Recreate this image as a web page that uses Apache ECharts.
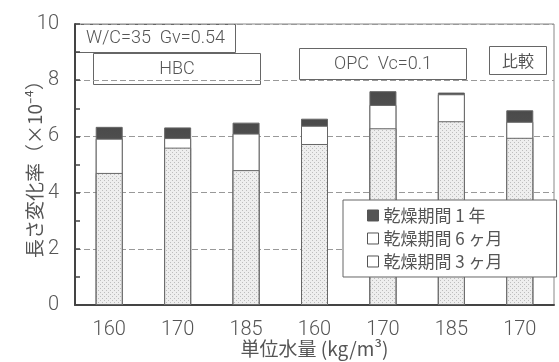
<!DOCTYPE html>
<html>
<head>
<meta charset="utf-8">
<script src="https://cdn.jsdelivr.net/npm/echarts@6/dist/echarts.min.js"></script>
<style>
  html, body { margin: 0; padding: 0; background: #fff; }
  #chart { width: 559px; height: 362px; }
</style>
</head>
<body>
<div id="chart"></div>
<script>
// Unit water content for each specimen group (HBC x3, OPC x3, reference x1)
const categories = ['160', '170', '185', '160', '170', '185', '170'];

// Cumulative length change (x10^-4) after each drying period
const dry1Year   = [6.34, 6.32, 6.49, 6.63, 7.61, 7.56, 6.93];
const dry6Months = [5.92, 5.94, 6.10, 6.38, 7.12, 7.50, 6.52];
const dry3Months = [4.70, 5.60, 4.80, 5.73, 6.29, 6.54, 5.95];

const seriesNames = ['乾燥期間 1 年', '乾燥期間 6 ヶ月', '乾燥期間 3 ヶ月'];
const yTicks = [0, 2, 4, 6, 8, 10];

const FONT_NUM = 'Roboto, sans-serif';
const FONT_JP = 'Noto Sans CJK JP, sans-serif';
const INK = '#555';

// Stipple texture for the 3-month segment
function stipple() {
  const c = document.createElement('canvas');
  c.width = 4; c.height = 4;
  const g = c.getContext('2d');
  g.fillStyle = '#eeeeee';
  g.fillRect(0, 0, 4, 4);
  g.fillStyle = '#bdbdbd';
  g.fillRect(0, 0, 1, 1);
  g.fillRect(2, 2, 1, 1);
  return c;
}

const darkFill = {
  type: 'linear', x: 0, y: 0, x2: 0, y2: 1,
  colorStops: [{ offset: 0, color: '#4a4a4a' }, { offset: 1, color: '#8a8a8a' }]
};

const chart = echarts.init(document.getElementById('chart'), null, { renderer: 'canvas' });

function boxLabel(x, y, w, h, text, font) {
  return {
    type: 'group', left: x, top: y, z: 50,
    children: [
      { type: 'rect', shape: { x: 0, y: 0, width: w, height: h },
        style: { fill: '#fff', stroke: '#666', lineWidth: 1 } },
      { type: 'text', x: w / 2, y: h / 2,
        style: { text: text, font: font, fill: INK, align: 'center', verticalAlign: 'middle' } }
    ]
  };
}

const barStyle = { borderColor: '#666', borderWidth: 1 };

chart.setOption({
  animation: false,
  backgroundColor: '#fff',
  grid: { left: 75, right: 5, top: 24, bottom: 57, containLabel: false, outerBoundsMode: 'none',
          show: true, borderColor: '#888', borderWidth: 1 },
  legend: {
    orient: 'vertical',
    left: 343, top: 200,
    z: 20,
    padding: [7, 54, 7, 24],
    itemGap: 6,
    itemWidth: 11, itemHeight: 11,
    borderColor: '#666', borderWidth: 1,
    backgroundColor: '#fff',
    selectedMode: false,
    textStyle: { fontFamily: FONT_JP, fontSize: 17, color: INK },
    data: [
      { name: seriesNames[0], icon: 'rect', itemStyle: { color: '#555', borderColor: '#555', borderWidth: 1 } },
      { name: seriesNames[1], icon: 'rect', itemStyle: { color: '#fff', borderColor: '#555', borderWidth: 1 } },
      { name: seriesNames[2], icon: 'rect', itemStyle: { color: '#fff', borderColor: '#555', borderWidth: 1 } }
    ]
  },
  xAxis: {
    type: 'category',
    data: categories,
    name: '単位水量 (kg/m³)',
    nameLocation: 'middle',
    nameGap: 34,
    nameMoveOverlap: false,
    nameTextStyle: { fontFamily: FONT_JP, fontSize: 19, color: INK },
    axisLine: { lineStyle: { color: '#444', width: 2 } },
    axisTick: { inside: true, length: 5, lineStyle: { color: '#444', width: 2 } },
    axisLabel: { margin: 15, fontFamily: FONT_NUM, fontWeight: 300, fontSize: 20, color: INK }
  },
  yAxis: {
    type: 'value',
    min: yTicks[0], max: yTicks[yTicks.length - 1], interval: 2,
    name: '長さ変化率（×10⁻⁴）',
    nameLocation: 'middle',
    nameRotate: 90,
    nameGap: 31,
    nameMoveOverlap: false,
    nameTextStyle: { fontFamily: FONT_JP, fontSize: 19, color: INK },
    axisLine: { show: true, lineStyle: { color: '#444', width: 2 } },
    axisTick: { show: true, inside: true, length: 5, lineStyle: { color: '#444', width: 1.5 } },
    minorTick: { show: true, splitNumber: 2, length: 5, lineStyle: { color: '#444', width: 1.5 } },
    axisLabel: { margin: 16, fontFamily: FONT_NUM, fontWeight: 300, fontSize: 20, color: INK,
                 formatter: v => (yTicks.includes(v) ? String(v) : '') },
    splitLine: { show: true, lineStyle: { color: '#999', type: [6, 3], width: 1 } }
  },
  series: [
    { name: seriesNames[0], type: 'bar', data: dry1Year, barWidth: 27, barGap: '-100%', z: 2,
      itemStyle: Object.assign({ color: darkFill }, barStyle) },
    { name: seriesNames[1], type: 'bar', data: dry6Months, barWidth: 27, barGap: '-100%', z: 3,
      itemStyle: Object.assign({ color: '#ffffff' }, barStyle) },
    { name: seriesNames[2], type: 'bar', data: dry3Months, barWidth: 27, barGap: '-100%', z: 4,
      itemStyle: Object.assign({ color: { image: stipple(), repeat: 'repeat' } }, barStyle) }
  ],
  graphic: [
    boxLabel(75, 24, 160, 28, 'W/C=35  Gv=0.54', '300 18px ' + FONT_NUM),
    boxLabel(93, 53, 167, 31, 'HBC', '300 18px ' + FONT_NUM),
    boxLabel(299, 48, 167, 31, 'OPC  Vc=0.1', '300 18px ' + FONT_NUM),
    boxLabel(489, 46, 57, 28, '比較', '16px ' + FONT_JP)
  ]
});
</script>
</body>
</html>
